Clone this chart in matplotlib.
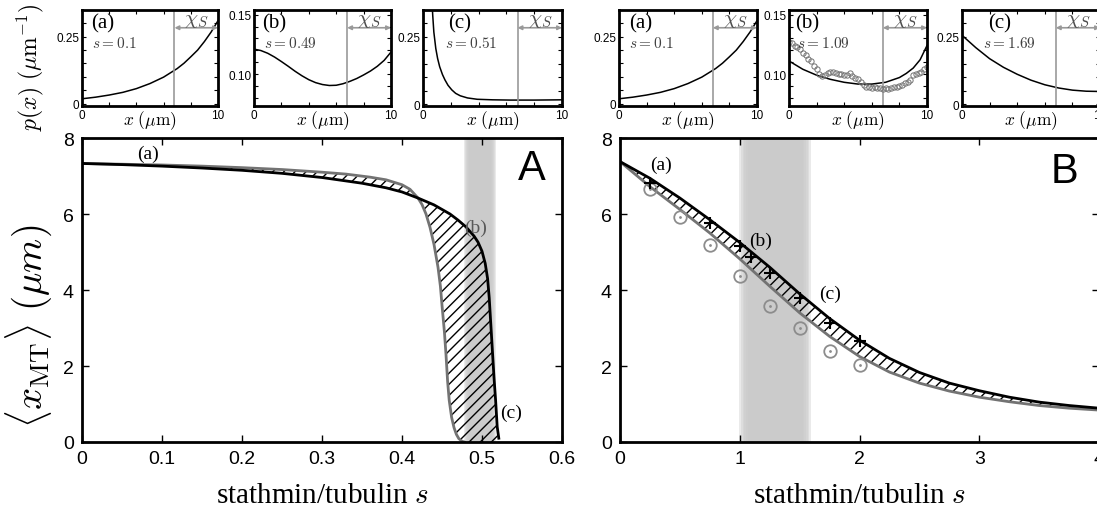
import matplotlib.pyplot as plt
import numpy as np

plt.rcParams['mathtext.fontset'] = 'cm'
plt.rcParams['font.family'] = ['Liberation Sans', 'DejaVu Sans']
plt.rcParams['hatch.linewidth'] = 1.0

SERIF = 'Liberation Serif'

# ---- main panel A : <x_MT> vs s ----
sA_black = [0, 0.05, 0.1, 0.15, 0.2, 0.25, 0.3, 0.35, 0.38, 0.4, 0.42, 0.44, 0.46,
            0.47, 0.48, 0.49, 0.495, 0.5, 0.504, 0.507, 0.509, 0.511, 0.513, 0.515,
            0.517, 0.519, 0.521]
xA_black = [7.33, 7.30, 7.26, 7.21, 7.15, 7.07, 6.96, 6.81, 6.69, 6.58, 6.42, 6.24, 6.0,
            5.84, 5.66, 5.42, 5.26, 5.02, 4.7, 4.3, 3.8, 3.1, 2.4, 1.7, 1.1, 0.4, 0.1]
sA_gray = [0, 0.05, 0.1, 0.15, 0.2, 0.25, 0.3, 0.33, 0.36, 0.38, 0.4, 0.41, 0.42, 0.425,
           0.43, 0.435, 0.44, 0.445, 0.448, 0.45, 0.453, 0.455, 0.457, 0.459, 0.462,
           0.465, 0.468, 0.471, 0.475, 0.478]
xA_gray = [7.33, 7.31, 7.29, 7.26, 7.22, 7.17, 7.10, 7.05, 6.97, 6.90, 6.77, 6.65, 6.42, 6.25,
           6.0, 5.65, 5.2, 4.6, 4.1, 3.6, 2.9, 2.3, 1.6, 1.1, 0.65, 0.38, 0.2, 0.09, 0.02, 0.0]
bandA = (0.481, 0.514)

# ---- main panel B ----
sB = [0, 0.25, 0.5, 0.75, 1.0, 1.25, 1.5, 1.75, 2.0, 2.25, 2.5, 2.75, 3.0, 3.25, 3.5, 3.75, 4.0]
xB_black = [7.38, 6.94, 6.42, 5.85, 5.25, 4.6, 3.9, 3.25, 2.68, 2.2, 1.83, 1.55, 1.35, 1.18,
            1.05, 0.96, 0.89]
xB_gray = [7.38, 6.72, 6.12, 5.5, 4.82, 4.1, 3.4, 2.78, 2.25, 1.84, 1.55, 1.34, 1.18, 1.06,
           0.96, 0.89, 0.84]
sB_plus = [0.25, 0.75, 1.0, 1.09, 1.25, 1.5, 1.75, 2.0]
xB_plus = [6.82, 5.76, 5.15, 4.88, 4.45, 3.79, 3.14, 2.66]
sB_circ = [0.25, 0.5, 0.75, 1.0, 1.25, 1.5, 1.75, 2.0]
xB_circ = [6.67, 5.93, 5.19, 4.36, 3.57, 3.0, 2.39, 2.03]
bandB = (1.03, 1.56)

# ---- insets p(x) ----
x_a = [0, 1, 2, 3, 4, 5, 6, 7, 7.5, 8, 8.5, 9, 9.5, 10]
p_a = [0.018, 0.024, 0.032, 0.042, 0.056, 0.075, 0.099, 0.131, 0.151, 0.175, 0.2, 0.232, 0.268, 0.31]

x_bA = [0, 0.5, 1, 1.5, 2, 2.5, 3, 3.5, 4, 4.5, 5, 5.5, 6, 6.5, 7, 7.5, 8, 8.5, 9, 9.5, 10]
p_bA = [0.121, 0.1198, 0.1175, 0.1143, 0.1105, 0.1065, 0.1023, 0.0985, 0.0952, 0.0927, 0.0911,
        0.0903, 0.0905, 0.0918, 0.0938, 0.0962, 0.0992, 0.1025, 0.1065, 0.1115, 0.1185]

x_cA = [0.6, 0.65, 0.7, 0.78, 0.92, 1.05, 1.2, 1.4, 1.58, 1.8, 2.07, 2.35, 2.68, 3.2, 3.9,
        5, 6.3, 8, 10]
p_cA = [0.45, 0.38, 0.33, 0.268, 0.207, 0.17, 0.139, 0.11, 0.09, 0.07, 0.053, 0.04, 0.031,
        0.023, 0.018, 0.016, 0.015, 0.015, 0.016]

x_bB = [0, 1, 2, 3, 4, 5, 6, 7, 8, 8.5, 9, 9.5, 10]
p_bB = [0.111, 0.104, 0.099, 0.0955, 0.093, 0.0915, 0.0915, 0.093, 0.097, 0.1005, 0.105, 0.112, 0.124]
x_bB_sim = [0.0, 0.2, 0.4, 0.6, 0.8, 1.0, 1.2, 1.4, 1.6, 1.8, 2.0, 2.2, 2.4, 2.6, 2.8, 3.0, 3.2,
            3.4, 3.6, 3.8, 4.0, 4.2, 4.4, 4.6, 4.8, 5.0, 5.2, 5.4, 5.6, 5.8, 6.0, 6.2, 6.4, 6.6,
            6.8, 7.0, 7.2, 7.4, 7.6, 7.8, 8.0, 8.2, 8.4, 8.6, 8.8, 9.0, 9.2, 9.4, 9.6, 9.8, 10.0]
p_bB_sim = [0.127, 0.126, 0.124, 0.123, 0.121, 0.118, 0.116, 0.113, 0.111, 0.107, 0.104, 0.100,
            0.098, 0.099, 0.101, 0.102, 0.102, 0.101, 0.100, 0.100, 0.099, 0.099, 0.101, 0.098,
            0.097, 0.096, 0.093, 0.091, 0.089, 0.089, 0.088, 0.089, 0.088, 0.088, 0.087, 0.088,
            0.087, 0.088, 0.089, 0.089, 0.090, 0.091, 0.092, 0.093, 0.095, 0.099, 0.100, 0.101,
            0.102, 0.104, 0.106]

x_cB = [0, 1, 2, 3, 4, 5, 6, 7, 8, 9, 10]
p_cB = [0.256, 0.21, 0.169, 0.137, 0.111, 0.089, 0.072, 0.06, 0.052, 0.048, 0.047]

chi_x = 6.8

W, H = 1097, 510
fig = plt.figure(figsize=(W / 100, H / 100), dpi=100)


def box(l, r, t, b):
    return [l / W, 1 - b / H, (r - l) / W, (b - t) / H]


def soft_band(ax, lo, hi, edge, n=6):
    for i in range(n):
        f = i / (n - 1)
        ax.axvspan(lo - edge / 2 + edge * f, hi + edge / 2 - edge * f,
                   color='#c9c9c9', alpha=0.38, lw=0, zorder=0)


def style_main(ax):
    for sp in ax.spines.values():
        sp.set_linewidth(2)
    ax.tick_params(direction='in', length=5, width=1, top=True, right=True,
                   labelsize=14, pad=6)


def inset(box_px, xs, ps, ylim, yticks, ylabels, tag, stext, tagx, sx):
    ax = fig.add_axes(box(*box_px))
    ax.plot(xs, ps, color='k', lw=1.1)
    ax.set_xlim(0, 10)
    ax.set_ylim(*ylim)
    ax.axvline(chi_x, color='0.6', lw=1.2)
    ax.annotate('', xy=(10, 0.815), xytext=(chi_x, 0.815),
                xycoords=('data', 'axes fraction'),
                arrowprops=dict(arrowstyle='<|-|>', color='0.6', lw=1.2,
                                mutation_scale=6, shrinkA=0, shrinkB=0))
    ax.text(8.4, 0.9, r'$\chi_S$', transform=ax.get_xaxis_transform(),
            ha='center', va='center', fontsize=15, color='0.3')
    ax.text(tagx, 0.87, tag, transform=ax.transAxes, ha='left', va='center',
            fontsize=15, family=SERIF)
    ax.text(sx, 0.66, stext, transform=ax.transAxes, ha='left', va='center',
            fontsize=11, color='0.25')
    ax.set_xticks([0, 2, 4, 6, 8, 10], ['0', '', '', '', '', '10'])
    ax.set_yticks(yticks, ylabels)
    ax.tick_params(direction='in', length=3, width=0.8, top=True, right=True,
                   labelsize=8.5, pad=2)
    for sp in ax.spines.values():
        sp.set_linewidth(2)
    ax.text(0.5, -0.02, r'$x\ (\mu\mathrm{m})$', transform=ax.transAxes,
            ha='center', va='top', fontsize=12.5)
    return ax


ya = [0, 0.05, 0.1, 0.15, 0.2, 0.25, 0.3]
yal = ['0', '', '', '', '', '0.25', '']
yb = [0.08, 0.09, 0.10, 0.11, 0.12, 0.13, 0.14, 0.15]
ybl = ['', '', '0.10', '', '', '', '', '0.15']

inset((82, 218, 11, 107), x_a, p_a, (-0.009, 0.35), ya, yal, '(a)', r'$s = 0.1$', 0.07, 0.07)
inset((254, 391, 11, 107), x_bA, p_bA, (0.073, 0.154), yb, ybl, '(b)', r'$s = 0.49$', 0.06, 0.07)
inset((423, 562, 11, 107), x_cA, p_cA, (-0.007, 0.35), ya, yal, '(c)', r'$s = 0.51$', 0.18, 0.16)
inset((619, 757, 11, 107), x_a, p_a, (-0.009, 0.35), ya, yal, '(a)', r'$s = 0.1$', 0.07, 0.07)
axbB = inset((789, 927, 11, 107), x_bB, p_bB, (0.073, 0.154), yb, ybl, '(b)', r'$s = 1.09$', 0.045, 0.06)
axbB.plot(x_bB_sim, p_bB_sim, 'o', ms=3.8, mfc='none', mec='0.45', mew=0.7)
inset((962, 1100, 11, 107), x_cB, p_cB, (-0.007, 0.35), ya, yal, '(c)', r'$s = 1.69$', 0.19, 0.15)

fig.text(30 / W, 1 - 68 / H, r'$p(x)\ (\mu\mathrm{m}^{-1})$', rotation=90,
         ha='center', va='center', fontsize=17)

# ---- panel A ----
axA = fig.add_axes(box(82, 562, 139, 443))
soft_band(axA, *bandA, 0.006)
polyA_s = sA_black + [0.521] + sA_gray[::-1]
polyA_x = xA_black + [0.0] + xA_gray[::-1]
axA.fill(polyA_s, polyA_x, facecolor='none', edgecolor='k', hatch='///', lw=0, zorder=1)
axA.plot(sA_gray, xA_gray, color='0.45', lw=2, zorder=2)
axA.plot(sA_black, xA_black, color='k', lw=2, zorder=3)
axA.set_xlim(0, 0.6)
axA.set_ylim(0, 8)
axA.set_xticks([0, 0.1, 0.2, 0.3, 0.4, 0.5, 0.6], ['0', '0.1', '0.2', '0.3', '0.4', '0.5', '0.6'])
axA.set_yticks([0, 2, 4, 6, 8])
style_main(axA)
axA.text(0.083, 7.6, '(a)', fontsize=14, family=SERIF, ha='center', va='center')
axA.text(0.492, 5.65, '(b)', fontsize=14, family=SERIF, ha='center', va='center', color='0.35')
axA.text(0.536, 0.77, '(c)', fontsize=14, family=SERIF, ha='center', va='center')
axA.text(0.937, 0.90, 'A', transform=axA.transAxes, fontsize=30, ha='center', va='center')

# ---- panel B ----
axB = fig.add_axes(box(620, 1099, 139, 443))
soft_band(axB, *bandB, 0.07)
polyB_s = sB + sB[::-1]
polyB_x = xB_black + xB_gray[::-1]
axB.fill(polyB_s, polyB_x, facecolor='none', edgecolor='k', hatch='///', lw=0, zorder=1)
axB.plot(sB, xB_gray, color='0.45', lw=2, zorder=2)
axB.plot(sB, xB_black, color='k', lw=2, zorder=3)
axB.plot(sB_circ, xB_circ, 'o', ms=9, mfc='none', mec='0.55', mew=1.3, zorder=4)
axB.plot(sB_circ, xB_circ, '.', ms=2, color='0.55', zorder=4)
axB.plot(sB_plus, xB_plus, '+', ms=9, color='k', mew=1.5, zorder=5)
axB.set_xlim(0, 4)
axB.set_ylim(0, 8)
axB.set_xticks([0, 1, 2, 3, 4])
axB.set_yticks([0, 2, 4, 6, 8])
style_main(axB)
axB.text(0.34, 7.3, '(a)', fontsize=14, family=SERIF, ha='center', va='center')
axB.text(1.17, 5.3, '(b)', fontsize=14, family=SERIF, ha='center', va='center')
axB.text(1.75, 3.92, '(c)', fontsize=14, family=SERIF, ha='center', va='center')
axB.text(0.927, 0.89, 'B', transform=axB.transAxes, fontsize=30, ha='center', va='center')

ylab = r'$\langle x_{\mathrm{MT}}\rangle\ (\mu m)$'
fig.text(29 / W, 1 - 326 / H, ylab, rotation=90, ha='center', va='center', fontsize=28)
for l, r in ((82, 562), (620, 1099)):
    fig.text((l + r) / 2 / W, 1 - 496 / H, r'stathmin/tubulin $s$', family=SERIF,
             fontsize=21, ha='center', va='center')

fig.savefig('out.png', dpi=100)
